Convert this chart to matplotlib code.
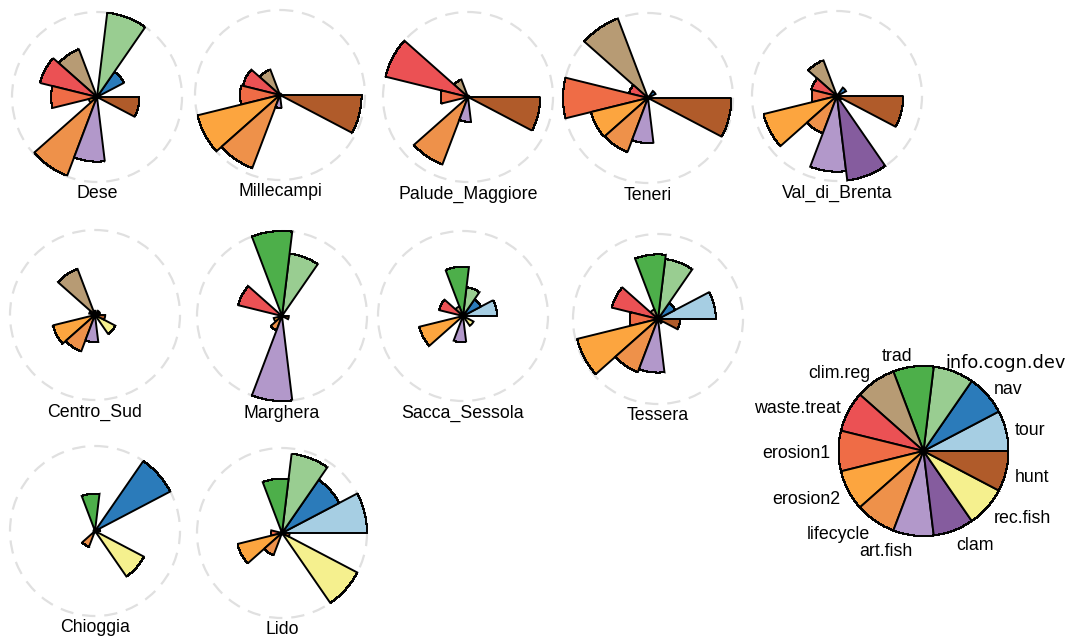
import numpy as np
import matplotlib
matplotlib.use("Agg")
import matplotlib.pyplot as plt
from matplotlib.patches import Polygon, Circle

# Ecosystem services (segments, counter-clockwise from 3 o'clock)
services = ["tour", "nav", "info.cogn.dev", "trad", "clim.reg", "waste.treat",
            "erosion1", "erosion2", "lifecycle", "art.fish", "clam", "rec.fish", "hunt"]

colors = ["#A6CEE3", "#2B7BBA", "#99CD91", "#4DAF4A", "#B79B74", "#EB5154",
          "#EF6C46", "#FCA53F", "#EE914A", "#B298CA", "#855C9E", "#F5F08E", "#B05B2A"]

# Scaled service values (0..1) per site, same order as `services`
Dese            = [0.00, 0.36, 1.00, 0.00, 0.60, 0.69, 0.54, 0.10, 0.99, 0.76, 0.00, 0.00, 0.50]
Millecampi      = [0.00, 0.00, 0.00, 0.00, 0.32, 0.45, 0.47, 1.00, 0.92, 0.15, 0.00, 0.00, 0.96]
Palude_Maggiore = [0.00, 0.00, 0.00, 0.00, 0.22, 1.00, 0.32, 0.00, 0.85, 0.29, 0.00, 0.00, 0.85]
Teneri          = [0.00, 0.10, 0.00, 0.00, 1.00, 0.23, 1.00, 0.69, 0.68, 0.53, 0.00, 0.00, 0.98]
Val_di_Brenta   = [0.00, 0.12, 0.00, 0.00, 0.45, 0.31, 0.30, 0.89, 0.47, 0.89, 1.00, 0.06, 0.78]
Centro_Sud      = [0.06, 0.06, 0.00, 0.05, 0.58, 0.07, 0.00, 0.51, 0.46, 0.32, 0.00, 0.27, 0.12]
Marghera        = [0.00, 0.00, 0.74, 1.00, 0.00, 0.53, 0.00, 0.10, 0.18, 1.00, 0.00, 0.00, 0.08]
Sacca_Sessola   = [0.40, 0.24, 0.34, 0.58, 0.12, 0.29, 0.00, 0.53, 0.00, 0.31, 0.00, 0.14, 0.00]
Tessera         = [0.68, 0.23, 0.71, 0.76, 0.12, 0.56, 0.33, 0.98, 0.67, 0.63, 0.00, 0.06, 0.26]
Chioggia        = [0.06, 1.00, 0.00, 0.44, 0.00, 0.00, 0.00, 0.00, 0.20, 0.00, 0.00, 0.65, 0.00]
Lido            = [1.00, 0.76, 0.94, 0.64, 0.00, 0.00, 0.13, 0.54, 0.28, 0.00, 0.00, 1.00, 0.09]

sites = ["Dese", "Millecampi", "Palude_Maggiore", "Teneri", "Val_di_Brenta",
         "Centro_Sud", "Marghera", "Sacca_Sessola", "Tessera",
         "Chioggia", "Lido"]
site_values = [Dese, Millecampi, Palude_Maggiore, Teneri, Val_di_Brenta,
               Centro_Sud, Marghera, Sacca_Sessola, Tessera,
               Chioggia, Lido]

# Layout (pixel coordinates, y downwards)
centers = [(97, 97), (280, 95), (468, 97), (648, 98), (837, 96),
           (95, 315), (282, 316), (463, 316), (658, 319),
           (95, 531), (282, 533)]
R = 85.0
key_center = (923.5, 451.0)

W, H = 1069, 641
fig = plt.figure(figsize=(W / 100, H / 100), dpi=100)
ax = fig.add_axes([0, 0, 1, 1])
ax.set_xlim(0, W)
ax.set_ylim(H, 0)
ax.axis("off")

n = len(services)
step = 2 * np.pi / n
label_font = ["Liberation Sans", "DejaVu Sans"]
GRID = 1.0  # arc outlines are traced on the pixel grid


def stepped_arc(cx, cy, r, t0, t1):
    t = np.linspace(t0, t1, 300)
    xs = cx + r * np.cos(t)
    ys = cy - r * np.sin(t)
    qx = np.round(xs / GRID) * GRID
    qy = np.round(ys / GRID) * GRID
    pts = [(xs[0], ys[0])]
    px, py = qx[0], qy[0]
    for x, y in zip(qx[1:], qy[1:]):
        if x != px or y != py:
            pts.append((x, py))
            pts.append((x, y))
            px, py = x, y
    pts.append((xs[-1], ys[-1]))
    return pts


def segment(cx, cy, r, i, color):
    t0, t1 = i * step, (i + 1) * step
    if r > 12:
        arc = stepped_arc(cx, cy, r, t0, t1)
    else:
        t = np.linspace(t0, t1, 20)
        arc = list(zip(cx + r * np.cos(t), cy - r * np.sin(t)))
    pts = np.array([(cx, cy)] + arc)
    ax.add_patch(Polygon(pts, closed=True, facecolor=color, edgecolor="black",
                         linewidth=1.4, joinstyle="miter", zorder=3))


for (cx, cy), name, vals in zip(centers, sites, site_values):
    ax.add_patch(Circle((cx, cy), R, fill=False, edgecolor="#E0E0E0",
                        linewidth=1.6, linestyle=(0, (6, 4)), zorder=1))
    for i, v in enumerate(vals):
        if v > 0:
            segment(cx, cy, v * R, i, colors[i])
    ax.add_patch(Circle((cx, cy), 2.5, facecolor="black", edgecolor="none", zorder=4))
    ax.text(cx, cy + 97, name, ha="center", va="center", fontsize=12.8,
            family=label_font, color="black")

# Key
kx, ky = key_center
for i in range(n):
    segment(kx, ky, R, i, colors[i])
ax.add_patch(Circle((kx, ky), 2.5, facecolor="black", edgecolor="none", zorder=4))
for i, lab in enumerate(services):
    a = (i + 0.5) * step
    lx = kx + 1.1 * R * np.cos(a)
    ly = ky + 3 - 1.15 * R * np.sin(a)
    ha = "left" if np.cos(a) > 0 else "right"
    fam = ["DejaVu Sans"] if lab == "info.cogn.dev" else label_font
    if lab == "info.cogn.dev":
        lx -= 11
    ax.text(lx, ly, lab, ha=ha, va="center", fontsize=12.8, family=fam, color="black")

fig.savefig("out.png", dpi=100)
